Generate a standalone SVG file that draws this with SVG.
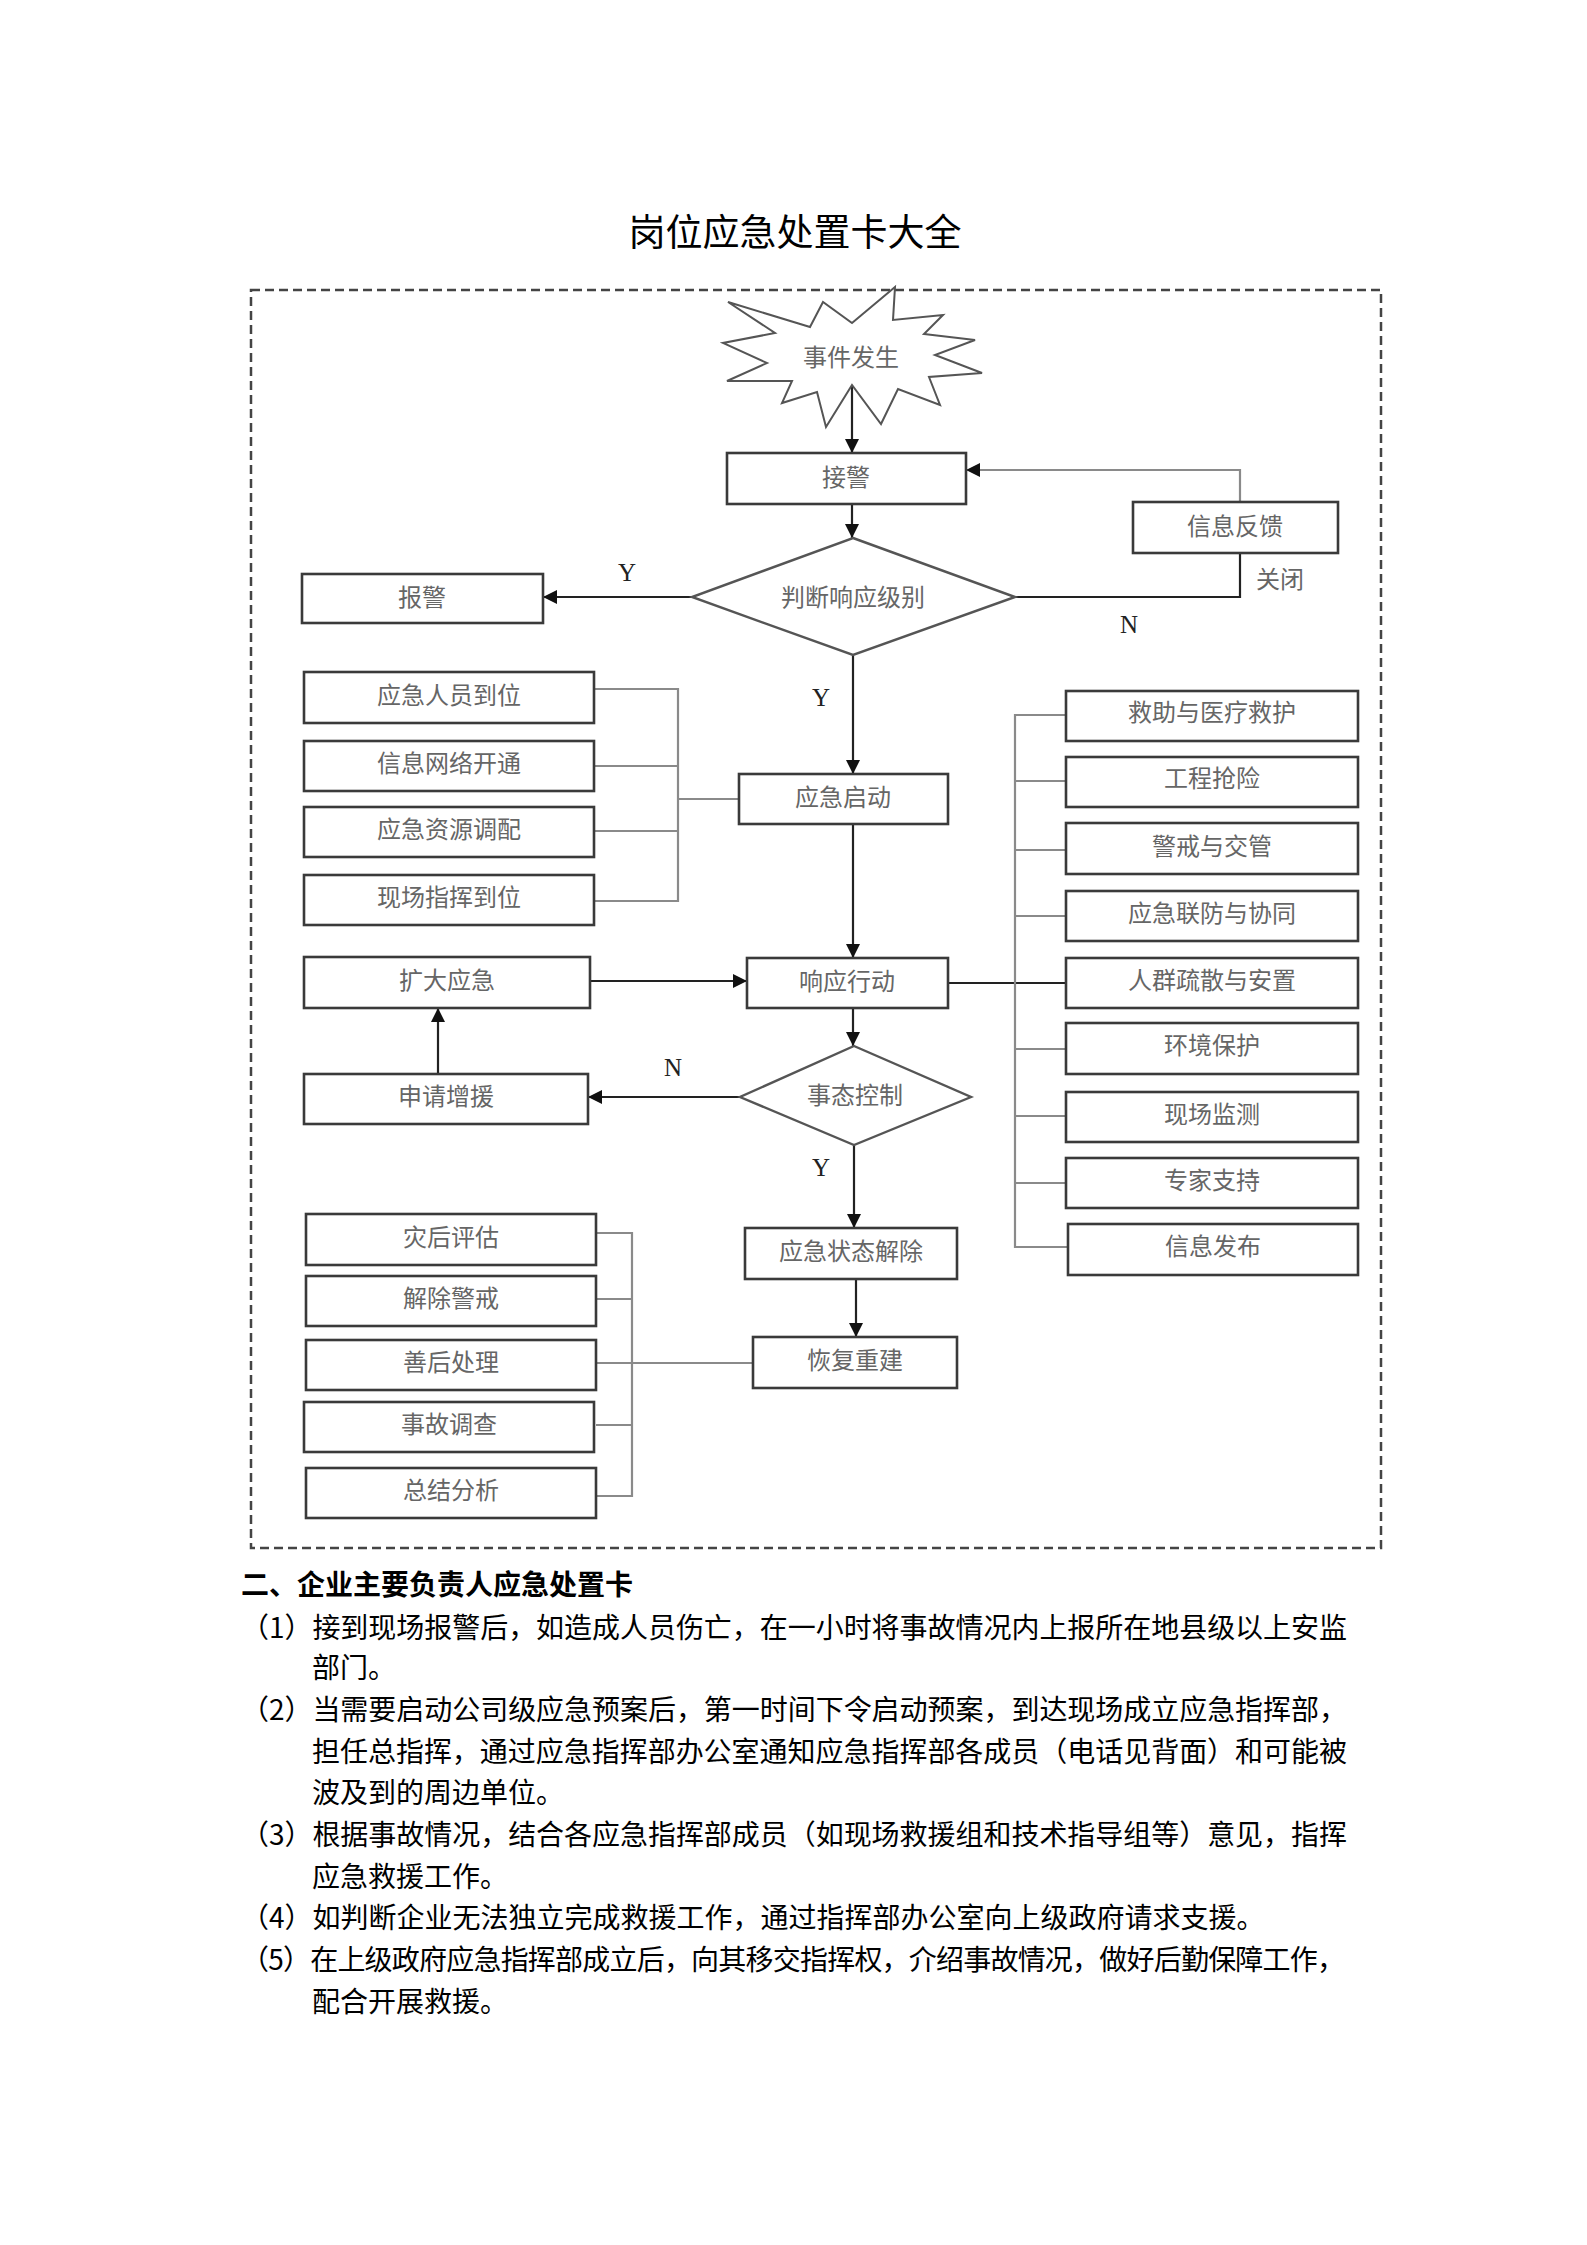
<svg xmlns="http://www.w3.org/2000/svg" width="1587" height="2245" viewBox="0 0 1587 2245">
<style>
.bg{fill:#ffffff}
.box{fill:#ffffff;stroke:#3a3a3a;stroke-width:2.6}
.dia{fill:#ffffff;stroke:#555555;stroke-width:2.4}
.lbl{font-family:"Noto Sans CJK SC","Noto Sans",sans-serif;font-size:24px;fill:#666666;text-anchor:middle}
.yn{font-family:"Liberation Serif","DejaVu Serif",serif;font-size:25px;fill:#222222;text-anchor:middle}
.arr{fill:none;stroke:#222222;stroke-width:2.2}
.brk{fill:none;stroke:#8a8a8a;stroke-width:2.2}
.title{font-family:"Noto Sans CJK SC","Noto Sans",sans-serif;font-size:37px;fill:#000000;text-anchor:middle}
.head{font-family:"Noto Sans CJK SC","Noto Sans",sans-serif;font-size:28px;font-weight:bold;fill:#000000}
.body{font-family:"Noto Sans CJK SC","Noto Sans",sans-serif;font-size:28px;fill:#000000}
</style>
<defs>
<marker id="ah" markerUnits="userSpaceOnUse" markerWidth="14" markerHeight="14" refX="14" refY="7" orient="auto">
<path d="M0,0 L14,7 L0,14 z" fill="#111111"/>
</marker>
</defs>
<rect class="bg" x="0" y="0" width="1587" height="2245"/>

<text class="title" x="795" y="246">岗位应急处置卡大全</text>

<rect x="251" y="290" width="1130" height="1258" fill="none" stroke="#444444" stroke-width="2.5" stroke-dasharray="9 5"/>

<g id="connectors">
<line class="arr" x1="852" y1="386" x2="852" y2="453" marker-end="url(#ah)"/>
<line class="arr" x1="852" y1="504" x2="852" y2="538" marker-end="url(#ah)"/>
<line class="arr" x1="692" y1="597" x2="543" y2="597" marker-end="url(#ah)"/>
<line class="arr" x1="853" y1="655" x2="853" y2="774" marker-end="url(#ah)"/>
<polyline class="arr" points="1015,597 1240,597 1240,553"/>
<polyline class="brk" points="1240,502 1240,470 966,470" marker-end="url(#ah)"/>
<polyline class="brk" points="594,689 678,689 678,901 594,901"/>
<line class="brk" x1="594" y1="766" x2="678" y2="766"/>
<line class="brk" x1="594" y1="831" x2="678" y2="831"/>
<line class="brk" x1="678" y1="799" x2="739" y2="799"/>
<line class="arr" x1="853" y1="824" x2="853" y2="958" marker-end="url(#ah)"/>
<line class="arr" x1="590" y1="981" x2="747" y2="981" stroke-width="3" marker-end="url(#ah)"/>
<line class="arr" x1="948" y1="983" x2="1066" y2="983"/>
<polyline class="brk" points="1066,715 1015,715 1015,1247 1068,1247"/>
<line class="brk" x1="1015" y1="781" x2="1066" y2="781"/>
<line class="brk" x1="1015" y1="850" x2="1066" y2="850"/>
<line class="brk" x1="1015" y1="916" x2="1066" y2="916"/>
<line class="brk" x1="1015" y1="1049" x2="1066" y2="1049"/>
<line class="brk" x1="1015" y1="1116" x2="1066" y2="1116"/>
<line class="brk" x1="1015" y1="1183" x2="1066" y2="1183"/>
<line class="arr" x1="853" y1="1008" x2="853" y2="1046" marker-end="url(#ah)"/>
<line class="arr" x1="740" y1="1097" x2="588" y2="1097" marker-end="url(#ah)"/>
<line class="arr" x1="438" y1="1074" x2="438" y2="1008" marker-end="url(#ah)"/>
<line class="arr" x1="854" y1="1145" x2="854" y2="1228" marker-end="url(#ah)"/>
<line class="arr" x1="856" y1="1279" x2="856" y2="1337" marker-end="url(#ah)"/>
<polyline class="brk" points="596,1233 632,1233 632,1496 596,1496"/>
<line class="brk" x1="596" y1="1299" x2="632" y2="1299"/>
<line class="brk" x1="596" y1="1425" x2="632" y2="1425"/>
<line class="brk" x1="596" y1="1363" x2="753" y2="1363"/>
<text class="yn" x="627" y="581">Y</text>
<text class="yn" x="1129" y="633">N</text>
<text class="lbl" x="1280" y="588" font-size="22">关闭</text>
<text class="yn" x="821" y="706">Y</text>
<text class="yn" x="673" y="1076">N</text>
<text class="yn" x="821" y="1176">Y</text>
</g>

<g id="n-event">
<polygon points="895,287 893,320 943,315 924,334 975,340 935,355 982,373 929,377 940,405 898,389 881,424 852,385 826,427 817,392 782,403 792,381 727,381 767,363 723,343 775,333 728,302 810,327 823,302 852,323" fill="#ffffff" stroke="#555555" stroke-width="2"/>
<text class="lbl" x="851" y="366">事件发生</text>
</g>
<g id="n-jiejing"><rect class="box" x="727" y="453" width="239" height="51"/><text class="lbl" x="846" y="486">接警</text></g>
<g id="n-fankui"><rect class="box" x="1133" y="502" width="205" height="51"/><text class="lbl" x="1235" y="535">信息反馈</text></g>
<g id="n-baojing"><rect class="box" x="302" y="574" width="241" height="49"/><text class="lbl" x="422" y="606">报警</text></g>
<g id="n-panduan"><polygon class="dia" points="853,538 1015,597 853,655 692,597"/><text class="lbl" x="853" y="606">判断响应级别</text></g>

<g id="n-renyuan"><rect class="box" x="304" y="672" width="290" height="51"/><text class="lbl" x="449" y="704">应急人员到位</text></g>
<g id="n-wangluo"><rect class="box" x="304" y="741" width="290" height="50"/><text class="lbl" x="449" y="772">信息网络开通</text></g>
<g id="n-ziyuan"><rect class="box" x="304" y="807" width="290" height="50"/><text class="lbl" x="449" y="838">应急资源调配</text></g>
<g id="n-zhihui"><rect class="box" x="304" y="875" width="290" height="50"/><text class="lbl" x="449" y="906">现场指挥到位</text></g>

<g id="n-qidong"><rect class="box" x="739" y="774" width="209" height="50"/><text class="lbl" x="843" y="806">应急启动</text></g>
<g id="n-kuoda"><rect class="box" x="304" y="957" width="286" height="51"/><text class="lbl" x="447" y="989">扩大应急</text></g>
<g id="n-xiangying"><rect class="box" x="747" y="958" width="201" height="50"/><text class="lbl" x="847" y="990">响应行动</text></g>
<g id="n-zengyuan"><rect class="box" x="304" y="1074" width="284" height="50"/><text class="lbl" x="446" y="1105">申请增援</text></g>
<g id="n-shitai"><polygon class="dia" points="854,1046 971,1097 854,1145 740,1097"/><text class="lbl" x="855" y="1104">事态控制</text></g>
<g id="n-jiechu"><rect class="box" x="745" y="1228" width="212" height="51"/><text class="lbl" x="851" y="1260">应急状态解除</text></g>
<g id="n-huifu"><rect class="box" x="753" y="1337" width="204" height="51"/><text class="lbl" x="855" y="1369">恢复重建</text></g>

<g id="n-pinggu"><rect class="box" x="306" y="1214" width="290" height="51"/><text class="lbl" x="451" y="1246">灾后评估</text></g>
<g id="n-jingjie"><rect class="box" x="306" y="1276" width="290" height="50"/><text class="lbl" x="451" y="1307">解除警戒</text></g>
<g id="n-shanhou"><rect class="box" x="306" y="1340" width="290" height="50"/><text class="lbl" x="451" y="1371">善后处理</text></g>
<g id="n-diaocha"><rect class="box" x="304" y="1402" width="290" height="50"/><text class="lbl" x="449" y="1433">事故调查</text></g>
<g id="n-zongjie"><rect class="box" x="306" y="1468" width="290" height="50"/><text class="lbl" x="451" y="1499">总结分析</text></g>

<g id="n-jiuzhu"><rect class="box" x="1066" y="691" width="292" height="50"/><text class="lbl" x="1212" y="721">救助与医疗救护</text></g>
<g id="n-gongcheng"><rect class="box" x="1066" y="757" width="292" height="50"/><text class="lbl" x="1212" y="787">工程抢险</text></g>
<g id="n-jingjie2"><rect class="box" x="1066" y="823" width="292" height="51"/><text class="lbl" x="1212" y="855">警戒与交管</text></g>
<g id="n-lianfang"><rect class="box" x="1066" y="891" width="292" height="50"/><text class="lbl" x="1212" y="922">应急联防与协同</text></g>
<g id="n-shusan"><rect class="box" x="1066" y="958" width="292" height="50"/><text class="lbl" x="1212" y="989">人群疏散与安置</text></g>
<g id="n-huanjing"><rect class="box" x="1066" y="1023" width="292" height="51"/><text class="lbl" x="1212" y="1054">环境保护</text></g>
<g id="n-jiance"><rect class="box" x="1066" y="1092" width="292" height="50"/><text class="lbl" x="1212" y="1123">现场监测</text></g>
<g id="n-zhuanjia"><rect class="box" x="1066" y="1158" width="292" height="50"/><text class="lbl" x="1212" y="1189">专家支持</text></g>
<g id="n-fabu"><rect class="box" x="1068" y="1224" width="290" height="51"/><text class="lbl" x="1213" y="1255">信息发布</text></g>

<g id="section2">
<text class="head" x="241" y="1595">二、企业主要负责人应急处置卡</text>
<text class="body" x="241" y="1638" textLength="1106" lengthAdjust="spacing">（1）接到现场报警后，如造成人员伤亡，在一小时将事故情况内上报所在地县级以上安监</text>
<text class="body" x="312" y="1678">部门。</text>
<text class="body" x="241" y="1720" textLength="1106" lengthAdjust="spacing">（2）当需要启动公司级应急预案后，第一时间下令启动预案，到达现场成立应急指挥部，</text>
<text class="body" x="312" y="1762" textLength="1035" lengthAdjust="spacing">担任总指挥，通过应急指挥部办公室通知应急指挥部各成员（电话见背面）和可能被</text>
<text class="body" x="312" y="1803">波及到的周边单位。</text>
<text class="body" x="241" y="1845" textLength="1106" lengthAdjust="spacing">（3）根据事故情况，结合各应急指挥部成员（如现场救援组和技术指导组等）意见，指挥</text>
<text class="body" x="312" y="1887">应急救援工作。</text>
<text class="body" x="241" y="1928">（4）如判断企业无法独立完成救援工作，通过指挥部办公室向上级政府请求支援。</text>
<text class="body" x="241" y="1970" textLength="1104" lengthAdjust="spacing">（5）在上级政府应急指挥部成立后，向其移交指挥权，介绍事故情况，做好后勤保障工作，</text>
<text class="body" x="312" y="2012">配合开展救援。</text>
</g>
</svg>
